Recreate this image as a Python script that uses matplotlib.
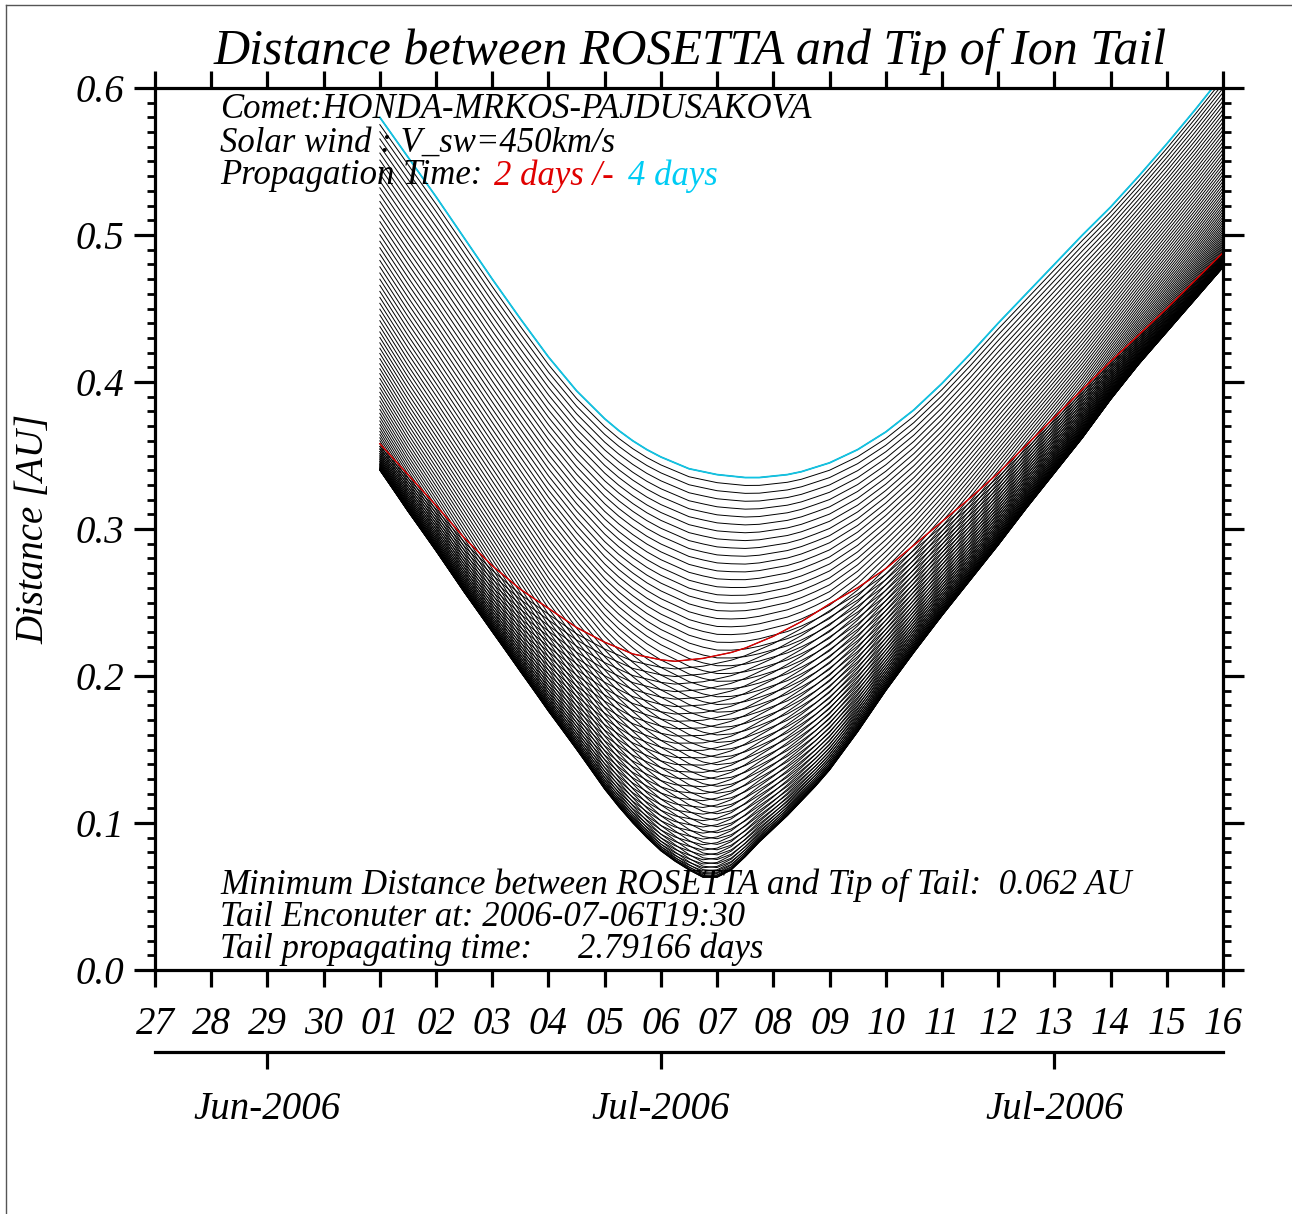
import numpy as np
import matplotlib
matplotlib.use('Agg')
import matplotlib.pyplot as plt
from matplotlib.lines import Line2D

# --- data (x = day of July 2006) ---
# half day steps, quarter day steps around the closest approach
days = [1.0, 1.5, 2.0, 2.5, 3.0, 3.5, 4.0, 4.5,
        5.0, 5.25, 5.5, 5.75, 6.0, 6.25, 6.5, 6.75, 7.0, 7.25, 7.5, 7.75,
        8.0, 8.25, 8.5, 8.75, 9.0,
        9.5, 10.0, 10.5, 11.0, 11.5, 12.0, 12.5, 13.0, 13.5, 14.0, 14.5, 15.0, 15.5, 16.0]

# lower envelope of the family (closest approach to tail line) [AU]
env = [0.340, 0.312, 0.285, 0.257, 0.230, 0.203, 0.176, 0.150,
       0.123, 0.111, 0.100, 0.090, 0.081, 0.074, 0.068, 0.063, 0.063, 0.068, 0.077, 0.087,
       0.096, 0.105, 0.115, 0.125, 0.136,
       0.162, 0.190, 0.216, 0.241, 0.265, 0.289, 0.314, 0.338, 0.362, 0.388, 0.412, 0.434, 0.456, 0.478]

# propagation time 2 days (red curve) [AU]
red = [0.358, 0.337, 0.316, 0.294, 0.275, 0.259, 0.246, 0.233,
       0.223, 0.219, 0.215, 0.213, 0.211, 0.210, 0.211, 0.212, 0.214, 0.216, 0.219, 0.223,
       0.227, 0.232, 0.237, 0.243, 0.249,
       0.260, 0.273, 0.289, 0.305, 0.321, 0.338, 0.357, 0.376, 0.395, 0.414, 0.432, 0.450, 0.469, 0.488]

# propagation time 4 days (cyan curve) [AU]
cyan = [0.580, 0.553, 0.526, 0.498, 0.470, 0.443, 0.417, 0.394,
        0.375, 0.367, 0.360, 0.354, 0.349, 0.345, 0.341, 0.339, 0.337, 0.336, 0.335, 0.335,
        0.336, 0.337, 0.339, 0.342, 0.345,
        0.354, 0.366, 0.381, 0.399, 0.419, 0.440, 0.460, 0.480, 0.500, 0.519, 0.540, 0.562, 0.585, 0.609]

# propagation times between 2 and 4 days, every 30 min
prop_days = np.linspace(2.0, 4.0, 97)

day_labels = ['27', '28', '29', '30', '01', '02', '03', '04', '05', '06', '07', '08',
              '09', '10', '11', '12', '13', '14', '15', '16']
day_ticks = list(range(-3, 17))
month_ticks = [-1, 6, 13]
month_labels = ['Jun-2006', 'Jul-2006', 'Jul-2006']

RED = '#e00000'
CYAN = '#10c4e4'

plt.rcParams['font.family'] = ['Liberation Serif']
plt.rcParams['font.style'] = 'italic'

W, H = 1292, 1214
fig = plt.figure(figsize=(W / 100, H / 100), dpi=100)

def fx(x):
    return x / W

def fy(y):
    return 1 - y / H

ax = fig.add_axes([fx(155), fy(970), fx(1223) - fx(155), fy(88) - fy(970)])

t = np.array(days)
e = np.array(env)
r = np.array(red)
c = np.array(cyan)

# each tail tip sits somewhere along the tail line: offset from closest point
a_red = np.sqrt(np.clip(r ** 2 - e ** 2, 0, None))
a_cyan = np.sqrt(np.clip(c ** 2 - e ** 2, 0, None))

for tau in prop_days:
    s = (tau - 2.0) / 2.0
    a = s * (a_red + a_cyan) - a_red
    ax.plot(t, np.sqrt(e ** 2 + a ** 2), color='black', lw=0.7)

ax.plot(t, r, color=RED, lw=1.0)
ax.plot(t, c, color=CYAN, lw=1.3)

ax.set_xlim(-3, 16)
ax.set_ylim(0, 0.6)

for sp in ax.spines.values():
    sp.set_linewidth(2.3)

ax.set_yticks([0.0, 0.1, 0.2, 0.3, 0.4, 0.5, 0.6])
ax.set_yticklabels(['0.0', '0.1', '0.2', '0.3', '0.4', '0.5', '0.6'])
ax.set_yticks(np.arange(0, 0.601, 0.01), minor=True)
ax.tick_params(axis='y', which='major', direction='out', length=15, width=2.3,
               labelsize=28, pad=7, left=True, right=True)
ax.tick_params(axis='y', which='minor', direction='out', length=6, width=2.0,
               left=True, right=True)

ax.set_xticks(day_ticks)
ax.set_xticklabels(day_labels)
ax.tick_params(axis='x', which='major', direction='out', length=12, width=2.3,
               labelsize=28, pad=14, top=True, bottom=True)

ax.set_ylabel('Distance [AU]', fontsize=28)
ax.yaxis.set_label_coords((52 - 155) / 1068, 0.5)

# month axis below the day labels
sec = ax.secondary_xaxis(-(1052 - 970) / 882)
sec.set_xticks(month_ticks)
sec.set_xticklabels(month_labels)
sec.spines['bottom'].set_linewidth(2.3)
sec.tick_params(axis='x', direction='out', length=12, width=2.3, labelsize=28, pad=16)

# title and notes
fig.text(fx(690), fy(52), 'Distance between ROSETTA and Tip of Ion Tail',
         fontsize=36, ha='center', va='center')

note = dict(fontsize=25, ha='left', va='center')
fig.text(fx(220), fy(110), 'Comet:HONDA-MRKOS-PAJDUSAKOVA', **note)
fig.text(fx(220), fy(143), 'Solar wind : V_sw=450km/s', **note)
fig.text(fx(220), fy(176), 'Propagation Time:', **note)
fig.text(fx(494), fy(176), '2 days /-', color=RED, **note)
fig.text(fx(628), fy(176), '4 days', color='#00ccf4', **note)

fig.text(fx(220), fy(885), 'Minimum Distance between ROSETTA and Tip of Tail:  0.062 AU', **note)
fig.text(fx(220), fy(917), 'Tail Enconuter at: 2006-07-06T19:30', **note)
fig.text(fx(220), fy(949), 'Tail propagating time:', **note)
fig.text(fx(578), fy(949), '2.79166 days', **note)

# outer frame (left and top edges visible)
fig.add_artist(Line2D([fx(6), fx(6)], [0, fy(5)], color='#555555', lw=1.0))
fig.add_artist(Line2D([fx(6), 1], [fy(5), fy(5)], color='#555555', lw=1.0))

fig.savefig('out.png', dpi=100)
